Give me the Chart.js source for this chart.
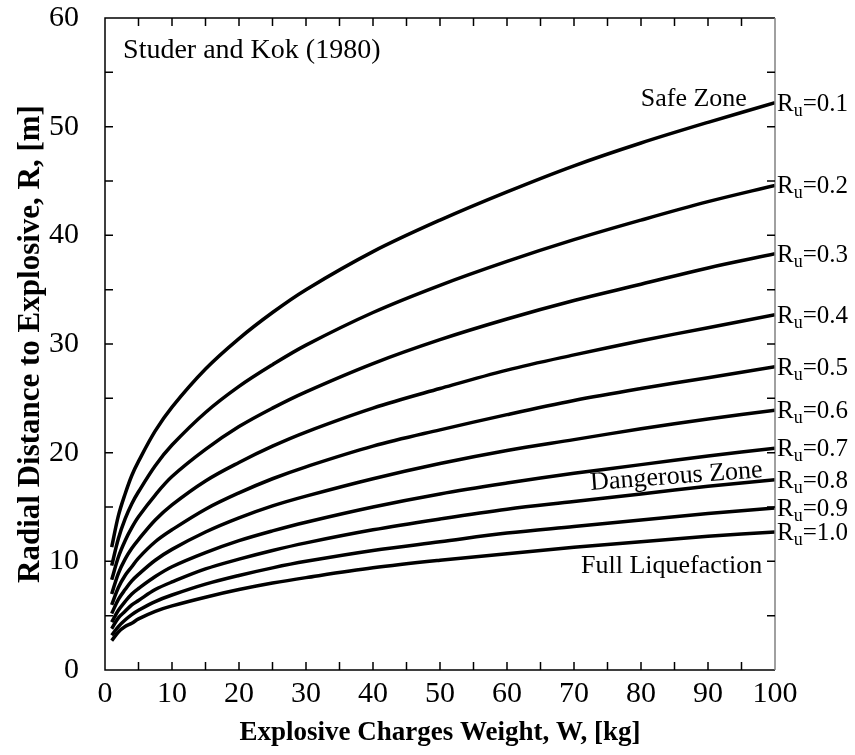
<!DOCTYPE html>
<html>
<head>
<meta charset="utf-8">
<script src="https://cdn.jsdelivr.net/npm/chart.js@4.4.0/dist/chart.umd.min.js"></script>
<style>
  html, body { margin: 0; padding: 0; background: #fff; }
</style>
</head>
<body>
<canvas id="myChart" width="855" height="755"></canvas>
<script>
// explosive charge weight W [kg]
var weights = [1, 2, 3, 4, 5, 7.5, 10, 15, 20, 25, 30, 40, 50, 60, 70, 80, 90, 100];

// radial distance R [m] for each pore pressure ratio Ru
var ru01 = [11.3, 14.2, 16.2, 17.9, 19.2, 22.0, 24.2, 27.7, 30.5, 32.9, 35.0, 38.5, 41.4, 44.0, 46.4, 48.5, 50.4, 52.2];
var ru02 = [9.6, 12.1, 13.9, 15.3, 16.4, 18.8, 20.7, 23.7, 26.1, 28.1, 29.9, 32.9, 35.4, 37.6, 39.6, 41.4, 43.1, 44.6];
var ru03 = [8.3, 10.4, 11.9, 13.1, 14.1, 16.1, 17.8, 20.3, 22.4, 24.1, 25.6, 28.2, 30.4, 32.3, 34.0, 35.5, 37.0, 38.3];
var ru04 = [7.0, 8.9, 10.2, 11.2, 12.0, 13.8, 15.2, 17.4, 19.1, 20.6, 21.9, 24.1, 25.9, 27.6, 29.0, 30.3, 31.5, 32.7];
var ru05 = [6.0, 7.6, 8.7, 9.5, 10.3, 11.8, 12.9, 14.8, 16.3, 17.6, 18.7, 20.6, 22.1, 23.5, 24.8, 25.9, 26.9, 27.9];
var ru06 = [5.2, 6.5, 7.4, 8.2, 8.8, 10.1, 11.1, 12.7, 14.0, 15.1, 16.0, 17.6, 19.0, 20.2, 21.2, 22.2, 23.1, 23.9];
var ru07 = [4.4, 5.5, 6.3, 7.0, 7.5, 8.6, 9.5, 10.8, 11.9, 12.8, 13.6, 15.0, 16.2, 17.2, 18.1, 18.9, 19.7, 20.4];
var ru08 = [3.8, 4.8, 5.4, 6.0, 6.4, 7.4, 8.1, 9.3, 10.2, 11.0, 11.7, 12.9, 13.9, 14.8, 15.5, 16.2, 16.9, 17.5];
var ru09 = [3.2, 4.0, 4.6, 5.1, 5.5, 6.3, 6.9, 7.9, 8.7, 9.4, 10.0, 11.0, 11.8, 12.6, 13.2, 13.8, 14.4, 14.9];
var ru10 = [2.7, 3.5, 4.0, 4.3, 4.7, 5.4, 5.9, 6.7, 7.4, 8.0, 8.5, 9.4, 10.1, 10.7, 11.3, 11.8, 12.3, 12.7];

var ruValues = ['0.1', '0.2', '0.3', '0.4', '0.5', '0.6', '0.7', '0.8', '0.9', '1.0'];
var ruSeries = [ru01, ru02, ru03, ru04, ru05, ru06, ru07, ru08, ru09, ru10];

var serif = "'Liberation Serif', 'Times New Roman', serif";

var datasets = ruSeries.map(function (vals, i) {
  return {
    label: 'Ru=' + ruValues[i],
    data: weights.map(function (w, j) { return { x: w, y: vals[j] }; }),
    borderColor: '#000',
    borderWidth: 3.5,
    pointRadius: 0,
    fill: false,
    tension: 0.35
  };
});

// frame, inward tick marks and text notes
var framePlugin = {
  id: 'frame',
  afterDraw: function (chart) {
    var ctx = chart.ctx;
    var a = chart.chartArea;
    var xs = chart.scales.x, ys = chart.scales.y;
    var tl = 8;
    ctx.save();
    ctx.lineWidth = 1.5;
    ctx.strokeStyle = '#000';
    ctx.beginPath();
    ctx.moveTo(a.right, a.top); ctx.lineTo(a.left, a.top);
    ctx.lineTo(a.left, a.bottom); ctx.lineTo(a.right, a.bottom);
    ctx.stroke();
    ctx.strokeStyle = '#808080';
    ctx.beginPath();
    ctx.moveTo(a.right, a.top); ctx.lineTo(a.right, a.bottom);
    ctx.stroke();

    ctx.strokeStyle = '#000';
    ctx.beginPath();
    for (var w = 5; w < 100; w += 5) {
      var px = xs.getPixelForValue(w);
      ctx.moveTo(px, a.bottom); ctx.lineTo(px, a.bottom - tl);
      ctx.moveTo(px, a.top); ctx.lineTo(px, a.top + tl);
    }
    for (var r = 5; r < 60; r += 5) {
      var py = ys.getPixelForValue(r);
      ctx.moveTo(a.left, py); ctx.lineTo(a.left + tl, py);
      ctx.moveTo(a.right, py); ctx.lineTo(a.right - tl, py);
    }
    ctx.stroke();

    ctx.fillStyle = '#000';
    ctx.textBaseline = 'alphabetic';

    // Ru labels at the end of each curve
    ruSeries.forEach(function (vals, i) {
      var y = ys.getPixelForValue(vals[vals.length - 1]) + 8;
      var x = a.right + 2;
      ctx.textAlign = 'left';
      ctx.font = '25px ' + serif;
      ctx.fillText('R', x, y);
      x += ctx.measureText('R').width;
      ctx.font = '18px ' + serif;
      ctx.fillText('u', x, y + 5);
      x += ctx.measureText('u').width;
      ctx.font = '25px ' + serif;
      ctx.fillText('=' + ruValues[i], x, y);
    });

    ctx.font = '28px ' + serif;
    ctx.textAlign = 'left';
    ctx.fillText('Studer and Kok (1980)', xs.getPixelForValue(2.7), ys.getPixelForValue(56.3));

    ctx.font = '26px ' + serif;
    ctx.textAlign = 'right';
    ctx.fillText('Safe Zone', xs.getPixelForValue(95.8), ys.getPixelForValue(51.9));
    ctx.fillText('Full Liquefaction', xs.getPixelForValue(98.1), ys.getPixelForValue(8.9));

    ctx.save();
    ctx.translate(xs.getPixelForValue(98.2), ys.getPixelForValue(17.75));
    ctx.rotate(-4.3 * Math.PI / 180);
    ctx.fillText('Dangerous Zone', 0, 0);
    ctx.restore();

    ctx.restore();
  }
};

var ctx = document.getElementById('myChart');
var myChart = new Chart(ctx, {
  type: 'line',
  data: { datasets: datasets },
  plugins: [framePlugin],
  options: {
    responsive: false,
    animation: false,
    layout: { padding: { left: 0, top: 18, right: 80, bottom: 0 } },
    plugins: {
      legend: { display: false },
      tooltip: { enabled: false }
    },
    scales: {
      x: {
        type: 'linear',
        min: 0,
        max: 100,
        grid: { display: false, drawTicks: false },
        border: { display: false },
        ticks: {
          stepSize: 10,
          padding: 6,
          maxRotation: 0,
          color: '#000',
          font: { family: serif, size: 30 }
        },
        title: {
          display: true,
          text: 'Explosive Charges Weight, W, [kg]',
          color: '#000',
          font: { family: serif, size: 27, weight: 'bold' },
          padding: { top: 0, bottom: 6 }
        },
        afterFit: function (scale) {
          scale.height = 85;
          scale.paddingLeft = 0;
          scale.paddingRight = 0;
        }
      },
      y: {
        min: 0,
        max: 60,
        grid: { display: false, drawTicks: false },
        border: { display: false },
        ticks: {
          stepSize: 10,
          padding: 26,
          color: '#000',
          font: { family: serif, size: 30 }
        },
        title: {
          display: true,
          text: 'Radial Distance to Explosive, R, [m]',
          color: '#000',
          font: { family: serif, size: 31, weight: 'bold' },
          padding: { top: 12, bottom: 0 }
        },
        afterFit: function (scale) {
          scale.width = 105;
          scale.paddingTop = 0;
          scale.paddingBottom = 0;
        }
      }
    }
  }
});
</script>
</body>
</html>
